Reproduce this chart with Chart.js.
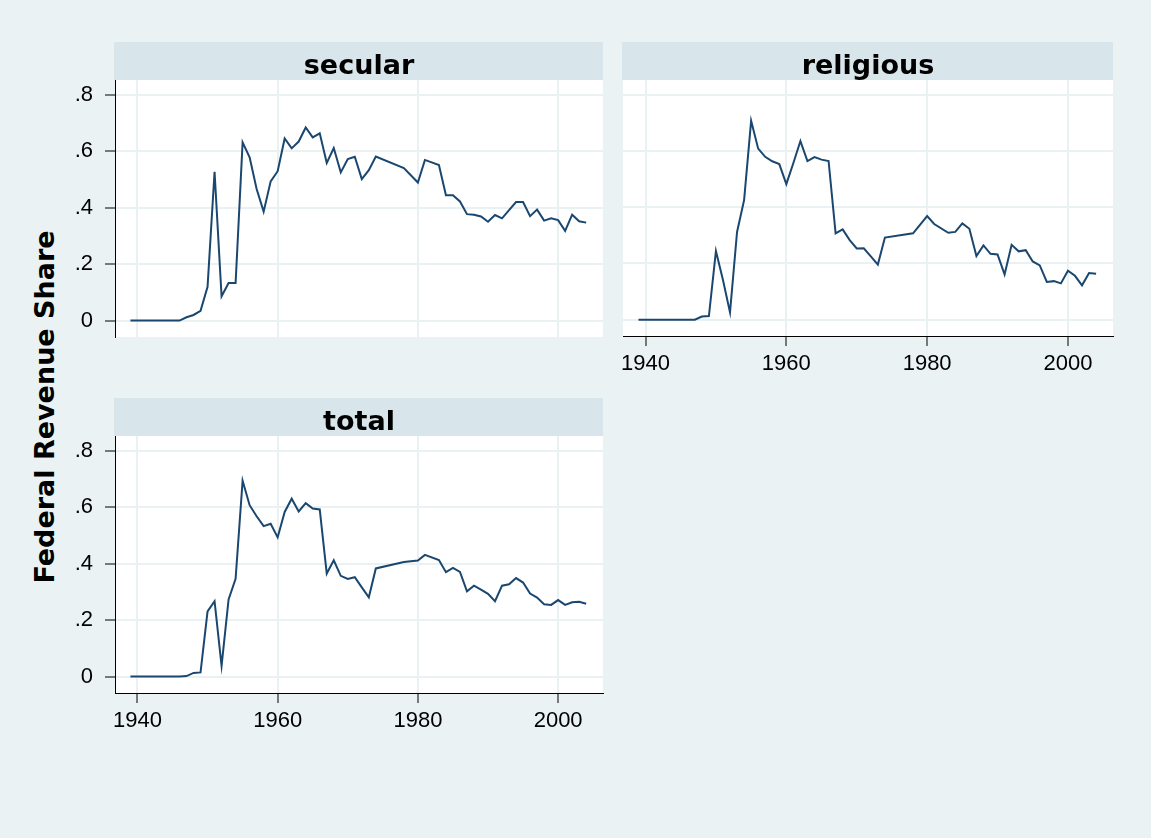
<!DOCTYPE html>
<html>
<head>
<meta charset="utf-8">
<script src="https://cdn.jsdelivr.net/npm/chart.js@4.4.0/dist/chart.umd.min.js"></script>
<style>
  html, body { margin: 0; padding: 0; background: #eaf2f3; }
  #wrap { position: relative; width: 1151px; height: 838px; background: #eaf2f3; overflow: hidden; }
  canvas { position: absolute; }
  #ytitle {
    position: absolute; left: 44px; top: 407px;
    transform: translate(-50%, -50%) rotate(-90deg);
    font: bold 27px "DejaVu Sans"; color: #000; white-space: nowrap;
  }
</style>
</head>
<body>
<div id="wrap">
  <div id="ytitle">Federal Revenue Share</div>
  <canvas id="secular" width="570" height="300" style="left:40px;top:40px"></canvas>
  <canvas id="religious" width="510" height="345" style="left:613px;top:40px"></canvas>
  <canvas id="total" width="570" height="345" style="left:40px;top:396px"></canvas>
</div>
<script>
// years 1939-2004, null = year missing in the data (line just spans over it)
const years = [1939,1940,1941,1942,1943,1944,1945,1946,1947,1948,1949,
  1950,1951,1952,1953,1954,1955,1956,1957,1958,1959,
  1960,1961,1962,1963,1964,1965,1966,1967,1968,1969,
  1970,1971,1972,1973,1974,1975,1976,1977,1978,1979,
  1980,1981,1982,1983,1984,1985,1986,1987,1988,1989,
  1990,1991,1992,1993,1994,1995,1996,1997,1998,1999,
  2000,2001,2002,2003,2004];

const secular = [0,0,0,0,0,0,0,0,0.012,0.02,0.035,
  0.12,0.527,0.086,0.133,0.133,0.631,0.578,0.466,0.386,0.493,
  0.529,0.645,0.61,0.634,0.684,0.649,0.663,0.558,0.611,0.525,
  0.572,0.58,0.501,0.533,0.581,null,null,null,0.54,null,
  0.489,0.569,null,0.551,0.444,0.444,0.422,0.377,0.375,0.369,
  0.35,0.374,0.362,0.391,0.42,0.42,0.37,0.393,0.354,0.362,
  0.356,0.318,0.375,0.352,0.347];

const religious = [0,0,0,0,0,0,0,0,0,0.011,0.013,
  0.244,0.141,0.026,0.312,0.425,0.707,0.608,0.579,0.563,0.553,
  0.482,0.557,0.635,0.564,0.578,0.569,0.564,0.307,0.321,0.283,
  0.253,0.254,0.225,0.196,0.292,null,null,null,0.307,null,
  0.368,0.34,null,0.309,0.312,0.342,0.323,0.226,0.264,0.234,
  0.232,0.161,0.266,0.243,0.247,0.207,0.193,0.134,0.137,0.129,
  0.174,0.156,0.122,0.166,0.163];

const total = [0,0,0,0,0,0,0,0,0.002,0.013,0.015,
  0.231,0.267,0.038,0.273,0.346,0.694,0.607,0.568,0.533,0.541,
  0.493,0.583,0.63,0.585,0.614,0.595,0.592,0.365,0.412,0.357,
  0.346,0.352,0.316,0.281,0.383,null,null,null,0.406,null,
  0.411,0.431,null,0.413,0.37,0.385,0.371,0.302,0.322,0.308,
  0.293,0.267,0.322,0.327,0.349,0.333,0.294,0.28,0.256,0.254,
  0.271,0.254,0.263,0.265,0.258];

const xTicks = [1940, 1960, 1980, 2000];
const xTickLabels = ["1940", "1960", "1980", "2000"];
const yTicks = [0, 0.2, 0.4, 0.6, 0.8];
const yTickLabels = ["0", ".2", ".4", ".6", ".8"];

const gridCol = "#eaf1f3";
const lineCol = "#1a476f";
const tickFont = { family: "Liberation Sans", size: 22 };

// white plot region + grey-blue header strip with the panel name
const stripPlugin = {
  id: "strip",
  beforeDraw(chart, args, opts) {
    const ctx = chart.ctx;
    const a = chart.chartArea;
    ctx.save();
    ctx.fillStyle = "#fff";
    ctx.fillRect(a.left, a.top, a.right - a.left, a.bottom - a.top);
    ctx.fillStyle = "#d8e5ea";
    ctx.fillRect(a.left - 1, a.top - 38, a.right - a.left + 1, 38);
    ctx.fillStyle = "#000";
    ctx.font = 'bold 27px "DejaVu Sans"';
    ctx.textAlign = "center";
    ctx.textBaseline = "alphabetic";
    ctx.fillText(opts.text, (a.left + a.right) / 2, a.top - 6);
    ctx.restore();
  }
};

function makePanel(id, title, vals, showX, showY, padRight, yLeftWidth, xHeight) {
  new Chart(document.getElementById(id), {
    type: "line",
    data: {
      datasets: [{
        data: years.map((yr, i) => ({ x: yr, y: vals[i] })),
        borderColor: lineCol,
        borderWidth: 2,
        pointRadius: 0,
        tension: 0,
        spanGaps: true
      }]
    },
    options: {
      responsive: false,
      animation: false,
      devicePixelRatio: 1,
      layout: { padding: { top: 40, right: padRight, bottom: 0, left: 0 } },
      plugins: {
        legend: { display: false },
        tooltip: { enabled: false },
        strip: { text: title }
      },
      scales: {
        x: {
          type: "linear",
          min: 1936.8,
          max: 2006.4,
          afterBuildTicks: s => { s.ticks = xTicks.map(v => ({ value: v })); },
          afterFit: s => { s.height = xHeight; s.paddingLeft = 0; s.paddingRight = 0; },
          grid: { color: gridCol, lineWidth: 2, drawTicks: showX, tickLength: 10, tickColor: "#000", tickWidth: 1 },
          border: { display: showX, color: "#000", width: 1 },
          ticks: {
            display: showX, autoSkip: false, maxRotation: 0, padding: 5,
            color: "#000", font: tickFont,
            callback: v => xTickLabels[xTicks.indexOf(v)]
          }
        },
        y: {
          min: -0.058,
          max: 0.852,
          afterBuildTicks: s => { s.ticks = yTicks.map(v => ({ value: v })); },
          // fixed width, and no extra room for half-labels so the plot keeps its size
          afterFit: s => { s.width = yLeftWidth; s.paddingTop = 0; s.paddingBottom = 0; },
          grid: { color: gridCol, lineWidth: 2, drawTicks: showY, tickLength: 10, tickColor: "#000", tickWidth: 1 },
          border: { display: showY, color: "#000", width: 1 },
          ticks: {
            display: showY, autoSkip: false, padding: 12,
            color: "#000", font: tickFont,
            callback: v => yTickLabels[yTicks.indexOf(v)]
          }
        }
      }
    },
    plugins: [stripPlugin]
  });
}

makePanel("secular", "secular", secular, false, true, 7, 75, 3);
makePanel("religious", "religious", religious, true, false, 10, 10, 49);
makePanel("total", "total", total, true, true, 7, 75, 48);
</script>
</body>
</html>
